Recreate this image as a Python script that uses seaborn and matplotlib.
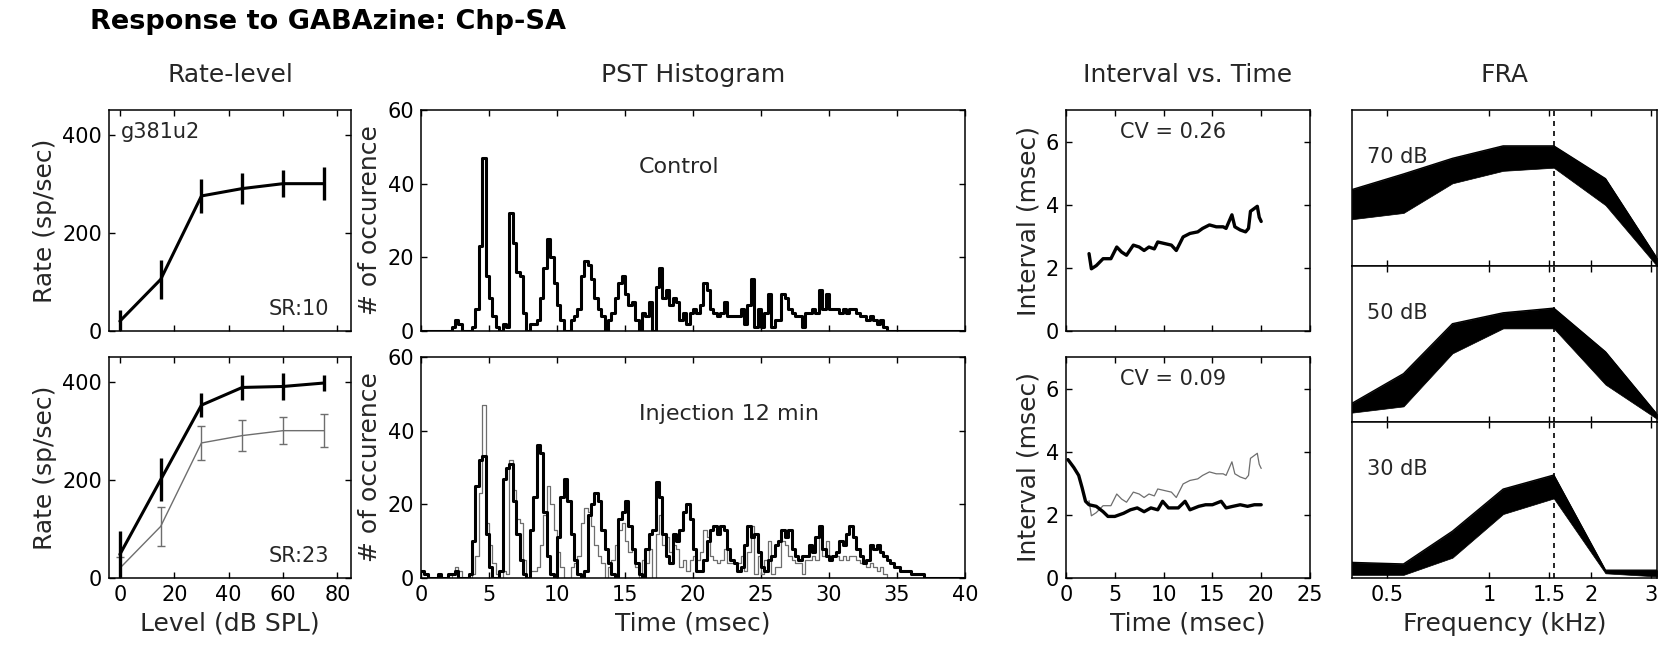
import numpy as np
import pandas as pd
import matplotlib
matplotlib.use("Agg")
import matplotlib.pyplot as plt
import seaborn as sns
from matplotlib.ticker import FixedLocator, NullLocator, FixedFormatter

# ---------------- data ----------------
# Rate-level
level = [0, 15, 30, 45, 60, 75]
rate_control = [20, 105, 275, 290, 300, 300]
err_control = [22, 39, 35, 32, 27, 33]
rate_inject = [48, 200, 352, 388, 390, 397]
err_inject = [47, 44, 25, 26, 27, 17]

# PST histograms (0.25 ms bins starting at 0 ms)
BIN_WIDTH = 0.25
pst_control = [
    0, 0, 0, 0, 0, 0, 0, 0, 0, 1, 3, 2, 0, 0, 0, 1,
    6, 23, 47, 15, 9, 4, 1, 0, 2, 1, 32, 24, 16, 15, 5, 0,
    2, 2, 3, 9, 17, 25, 20, 13, 7, 3, 0, 0, 3, 4, 6, 15,
    19, 18, 14, 9, 6, 4, 0, 3, 5, 9, 13, 15, 10, 7, 8, 3,
    0, 5, 4, 8, 0, 12, 17, 9, 11, 7, 9, 8, 3, 5, 2, 5,
    6, 5, 7, 13, 11, 6, 5, 4, 5, 8, 4, 4, 4, 4, 6, 2,
    7, 14, 1, 6, 1, 5, 10, 1, 3, 3, 10, 9, 6, 5, 4, 4,
    1, 5, 5, 6, 5, 11, 6, 10, 6, 6, 6, 5, 6, 5, 6, 6,
    5, 4, 4, 3, 4, 3, 2, 3, 1, 0, 0, 0, 0, 0, 0, 0,
    0, 0, 0, 0, 0, 0, 0, 0, 0, 0, 0, 0, 0, 0, 0, 0,
]
pst_inject = [
    2, 1, 0, 0, 0, 1, 0, 0, 1, 1, 2, 0, 0, 0, 1, 10,
    25, 32, 33, 12, 3, 0, 0, 2, 27, 30, 31, 21, 12, 5, 1, 0,
    13, 22, 36, 34, 18, 6, 1, 0, 11, 22, 27, 21, 12, 5, 1, 0,
    2, 17, 20, 23, 21, 13, 8, 4, 1, 0, 16, 18, 21, 14, 8, 4,
    1, 0, 8, 12, 13, 26, 22, 12, 6, 4, 12, 10, 13, 18, 20, 16,
    8, 2, 2, 5, 10, 13, 14, 12, 14, 13, 8, 5, 4, 2, 3, 9,
    14, 11, 12, 7, 3, 2, 5, 6, 9, 10, 13, 11, 13, 8, 6, 5,
    6, 6, 9, 7, 11, 14, 8, 6, 5, 6, 7, 10, 9, 12, 14, 11,
    8, 6, 4, 5, 9, 8, 9, 7, 6, 5, 4, 3, 3, 2, 2, 2,
    1, 1, 1, 1, 0, 0, 0, 0, 0, 0, 0, 0, 0, 0, 0, 0,
]

# Interval vs. time
int_time_control = [2.36, 2.6, 3.1, 3.8, 4.6, 5.2, 5.7, 6.2, 6.9, 7.5, 8.0, 8.5,
                    9.05, 9.4, 10.1, 10.8, 11.3, 12.0, 12.7, 13.5, 14.0, 14.7,
                    15.4, 16.1, 16.4, 17.0, 17.3, 17.85, 18.4, 18.7, 18.9, 19.6,
                    19.8, 20.0]
int_val_control = [2.45, 1.97, 2.07, 2.29, 2.29, 2.66, 2.5, 2.4, 2.72, 2.66, 2.55,
                   2.66, 2.6, 2.82, 2.77, 2.72, 2.55, 2.98, 3.09, 3.14, 3.25, 3.36,
                   3.3, 3.3, 3.25, 3.68, 3.3, 3.2, 3.14, 3.25, 3.79, 3.95, 3.6, 3.47]
int_time_inject = [0.2, 0.8, 1.3, 1.65, 2.0, 2.36, 3.1, 3.8, 4.3, 5.0, 5.9, 6.6,
                   7.3, 8.0, 8.7, 9.4, 9.9, 10.5, 11.5, 12.2, 12.7, 13.6, 14.3,
                   15.0, 15.9, 16.4, 17.1, 17.85, 18.6, 19.3, 20.0]
int_val_inject = [3.75, 3.5, 3.25, 2.86, 2.43, 2.32, 2.27, 2.1, 1.95, 1.95, 2.05,
                  2.16, 2.22, 2.1, 2.22, 2.16, 2.43, 2.22, 2.22, 2.43, 2.16, 2.27,
                  2.32, 2.32, 2.43, 2.22, 2.27, 2.32, 2.27, 2.32, 2.32]
cv_labels = ["CV = 0.26", "CV = 0.09"]

# FRA (normalised response band per level)
fra_freq = [0.395, 0.56, 0.78, 1.1, 1.55, 2.2, 3.12]
fra_levels = ["70 dB", "50 dB", "30 dB"]
fra_lo = {
    "70 dB": [0.30, 0.34, 0.53, 0.61, 0.63, 0.39, 0.0],
    "50 dB": [0.06, 0.10, 0.44, 0.60, 0.60, 0.24, 0.02],
    "30 dB": [0.02, 0.02, 0.13, 0.41, 0.51, 0.03, 0.01],
}
fra_hi = {
    "70 dB": [0.49, 0.59, 0.69, 0.77, 0.77, 0.56, 0.05],
    "50 dB": [0.12, 0.31, 0.63, 0.70, 0.73, 0.45, 0.05],
    "30 dB": [0.10, 0.09, 0.30, 0.57, 0.66, 0.05, 0.05],
}
fra_cf = 1.55
fra_ticks = [0.5, 1, 1.5, 2, 3]
fra_ticklabels = ["0.5", "1", "1.5", "2", "3"]

# ---------------- style ----------------
sns.set_style("ticks")
plt.rcParams["font.family"] = ["DejaVu Sans"]
plt.rcParams["axes.linewidth"] = 1.1
GRAY = "#6e6e6e"
FS = 15      # tick labels / annotations
LFS = 18     # axis labels
TFS = 18     # column titles

W, H = 1663, 656
fig = plt.figure(figsize=(W / 100, H / 100), dpi=100)


def box(x0, x1, y0, y1):
    return [x0 / W, 1 - y1 / H, (x1 - x0) / W, (y1 - y0) / H]


def style(ax, labelbottom=True):
    ax.tick_params(direction="in", top=True, right=True, length=4, width=1,
                   labelsize=FS, colors="black", labelbottom=labelbottom, pad=5)
    for s in ax.spines.values():
        s.set_visible(True)
        s.set_linewidth(1.1)
        s.set_color("black")


fig.text(90 / W, 1 - 22 / H, "Response to GABAzine: Chp-SA", fontsize=19.5,
         fontweight="bold", ha="left", va="center", color="black")

# ---------------- Rate-level ----------------
ax1 = fig.add_axes(box(109, 351, 110, 331))
ax2 = fig.add_axes(box(109, 351, 357, 578))
sns.lineplot(x=level, y=rate_control, color="black", lw=2.2, ax=ax1)
ax1.errorbar(level, rate_control, yerr=err_control, fmt="none", ecolor="black",
             elinewidth=2.4, capsize=0)
sns.lineplot(x=level, y=rate_control, color=GRAY, lw=1.0, ax=ax2)
ax2.errorbar(level, rate_control, yerr=err_control, fmt="none", ecolor=GRAY,
             elinewidth=1.0, capsize=3, capthick=1.0)
sns.lineplot(x=level, y=rate_inject, color="black", lw=2.2, ax=ax2)
ax2.errorbar(level, rate_inject, yerr=err_inject, fmt="none", ecolor="black",
             elinewidth=2.4, capsize=0)
for ax, sr, lb in [(ax1, "SR:10", False), (ax2, "SR:23", True)]:
    ax.set_xlim(-4, 85)
    ax.set_ylim(0, 450)
    ax.set_xticks([0, 20, 40, 60, 80])
    ax.set_yticks([0, 200, 400])
    ax.set_ylabel("Rate (sp/sec)", fontsize=LFS, labelpad=4)
    ax.text(0.91, 0.1, sr, transform=ax.transAxes, ha="right", va="center",
            fontsize=FS)
    style(ax, lb)
ax1.text(0.05, 0.9, "g381u2", transform=ax1.transAxes, ha="left", va="center",
         fontsize=FS)
ax1.set_title("Rate-level", fontsize=TFS, pad=20)
ax2.set_xlabel("Level (dB SPL)", fontsize=LFS, labelpad=5)

# ---------------- PST ----------------
edges = np.arange(len(pst_control) + 1) * BIN_WIDTH
pst_df = pd.DataFrame({
    "time": edges,
    "control": pst_control + [pst_control[-1]],
    "inject": pst_inject + [pst_inject[-1]],
})
ax3 = fig.add_axes(box(421, 965, 110, 331))
ax4 = fig.add_axes(box(421, 965, 357, 578))
sns.lineplot(data=pst_df, x="time", y="control", color="black", lw=2.2,
             drawstyle="steps-post", estimator=None, ax=ax3)
sns.lineplot(data=pst_df, x="time", y="control", color=GRAY, lw=0.9,
             drawstyle="steps-post", estimator=None, ax=ax4)
sns.lineplot(data=pst_df, x="time", y="inject", color="black", lw=2.2,
             drawstyle="steps-post", estimator=None, ax=ax4)
for ax, lb in [(ax3, False), (ax4, True)]:
    ax.set_xlim(0, 40)
    ax.set_ylim(0, 60)
    ax.set_xticks(range(0, 41, 5))
    ax.set_yticks([0, 20, 40, 60])
    ax.set_ylabel("# of occurence", fontsize=LFS, labelpad=4)
    ax.set_xlabel("")
    style(ax, lb)
ax3.text(0.40, 0.74, "Control", transform=ax3.transAxes, ha="left",
         va="center", fontsize=FS + 1)
ax4.text(0.40, 0.74, "Injection 12 min", transform=ax4.transAxes, ha="left",
         va="center", fontsize=FS + 1)
ax3.set_title("PST Histogram", fontsize=TFS, pad=20)
ax4.set_xlabel("Time (msec)", fontsize=LFS, labelpad=5)

# ---------------- Interval vs. Time ----------------
ax5 = fig.add_axes(box(1066, 1310, 110, 331))
ax6 = fig.add_axes(box(1066, 1310, 357, 578))
sns.lineplot(x=int_time_control, y=int_val_control, color="black", lw=2.4,
             sort=False, estimator=None, ax=ax5)
sns.lineplot(x=int_time_control, y=int_val_control, color=GRAY, lw=0.9,
             sort=False, estimator=None, ax=ax6)
sns.lineplot(x=int_time_inject, y=int_val_inject, color="black", lw=2.4,
             sort=False, estimator=None, ax=ax6)
for ax, cv, lb in [(ax5, cv_labels[0], False), (ax6, cv_labels[1], True)]:
    ax.set_xlim(0, 25)
    ax.set_ylim(0, 7)
    ax.set_xticks(range(0, 26, 5))
    ax.set_yticks([0, 2, 4, 6])
    ax.set_ylabel("Interval (msec)", fontsize=LFS, labelpad=4)
    ax.text(0.44, 0.9, cv, transform=ax.transAxes, ha="center", va="center",
            fontsize=FS)
    style(ax, lb)
ax5.set_title("Interval vs. Time", fontsize=TFS, pad=20)
ax6.set_xlabel("Time (msec)", fontsize=LFS, labelpad=5)

# ---------------- FRA ----------------
fra_rows = [(110, 266), (266, 422), (422, 578)]
fra_axes = []
for i, (lvl, (y0, y1)) in enumerate(zip(fra_levels, fra_rows)):
    ax = fig.add_axes(box(1352, 1657, y0, y1))
    ax.fill_between(fra_freq, fra_lo[lvl], fra_hi[lvl], color="black",
                    lw=0.5, zorder=3)
    sns.lineplot(x=fra_freq, y=fra_hi[lvl], color="black", lw=1.0, ax=ax,
                 zorder=3)
    ax.axvline(fra_cf, color="black", lw=1.2, ls=(0, (3, 3)), zorder=4)
    ax.text(0.05, 0.7, lvl, transform=ax.transAxes, ha="left", va="center",
            fontsize=FS, zorder=2)
    ax.set_xscale("log")
    ax.set_xlim(fra_freq[0], fra_freq[-1])
    ax.set_ylim(0, 1)
    ax.xaxis.set_major_locator(FixedLocator(fra_ticks))
    ax.xaxis.set_major_formatter(FixedFormatter(fra_ticklabels))
    ax.xaxis.set_minor_locator(NullLocator())
    ax.yaxis.set_major_locator(NullLocator())
    style(ax, i == 2)
    fra_axes.append(ax)
fra_axes[0].set_title("FRA", fontsize=TFS, pad=20)
fra_axes[2].set_xlabel("Frequency (kHz)", fontsize=LFS, labelpad=5)

fig.savefig("out.png", dpi=100)
